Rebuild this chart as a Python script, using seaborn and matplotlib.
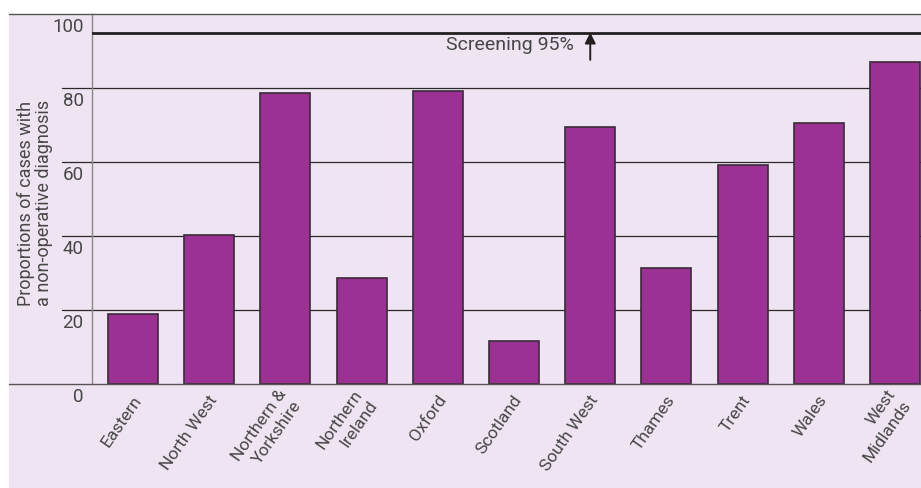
import numpy as np
import pandas as pd
import seaborn as sns
import matplotlib.pyplot as plt
from matplotlib.patches import Rectangle
from matplotlib.transforms import ScaledTranslation

# Chart data
regions = ['Eastern', 'North West', 'Northern &\nYorkshire', 'Northern\nIreland', 'Oxford',
           'Scotland', 'South West', 'Thames', 'Trent', 'Wales', 'West\nMidlands']
proportions = [19, 40.3, 78.6, 28.7, 79.3, 11.6, 69.5, 31.4, 59.3, 70.5, 87.0]
y_ticks = [0, 20, 40, 60, 80, 100]
screening_level = 95

BG = '#EFE4F1'
BAR = '#9B3293'
TXT = '#474747'

sns.set_style('white')
plt.rcParams['font.family'] = ['Roboto', 'DejaVu Sans']

df = pd.DataFrame({'region': regions, 'value': proportions})

fig = plt.figure(figsize=(9.21, 4.88), dpi=100, facecolor='white')
# lavender panel behind everything
fig.patches.append(Rectangle((9 / 921, 0), 1, 1 - 14 / 488, transform=fig.transFigure,
                             facecolor=BG, edgecolor='none', zorder=-10))

ax = fig.add_axes([92 / 921, 104 / 488, 829 / 921, 370 / 488])
ax.set_facecolor('none')

sns.barplot(data=df, x='region', y='value', color=BAR, width=0.656,
            edgecolor='#3a2a3a', linewidth=1.2, saturation=1, ax=ax, zorder=3)

ax.set_xlim(-0.538, 10.34)
ax.set_ylim(0, 100)
for s in ['top', 'right', 'bottom']:
    ax.spines[s].set_visible(False)
ax.spines['left'].set_color('#8a8a8a')
ax.spines['left'].set_linewidth(1.0)

# horizontal rules
for v in [20, 40, 60, 80]:
    ax.axhline(v, xmin=-30 / 829, xmax=1, color='#2a2a2a', lw=0.9, clip_on=False, zorder=2)
for v in [0, 100]:
    ax.axhline(v, xmin=-83 / 829, xmax=1, color='#555555', lw=1.0, clip_on=False, zorder=4)
ax.axhline(screening_level, color='#231f20', lw=2.0, zorder=4)

# screening annotation
ax.annotate('', xy=(6, screening_level), xytext=(6, 87.6),
            arrowprops=dict(arrowstyle='-|>', color='#231f20', lw=1.4, mutation_scale=16,
                            shrinkA=0, shrinkB=0),
            zorder=5)
ax.text(5.79, 91.6, 'Screening 95%', ha='right', va='center', fontsize=14, color=TXT)

# y tick labels sit just under each rule
ax.set_yticks(y_ticks)
ax.set_yticklabels([str(t) for t in y_ticks], fontsize=13.5, color=TXT, va='center')
ax.tick_params(axis='y', length=0, pad=6)
for lab in ax.get_yticklabels():
    lab.set_transform(lab.get_transform() + ScaledTranslation(0, -0.125, fig.dpi_scale_trans))

# x tick labels
ax.set_xlabel('')
ax.set_ylabel('')
ax.set_xticks(range(len(regions)))
ax.set_xticklabels(regions, rotation=55, ha='right', va='center', rotation_mode='anchor',
                   fontsize=12.5, color=TXT, linespacing=1.3)
ax.tick_params(axis='x', length=0, pad=0)
for lab in ax.get_xticklabels():
    lab.set_transform(lab.get_transform() + ScaledTranslation(0.05, -0.13, fig.dpi_scale_trans))

fig.text(35 / 921, 1 - 203 / 488, 'Proportions of cases with\na non-operative diagnosis',
         rotation=90, ha='center', va='center', multialignment='center',
         fontsize=13, color=TXT, linespacing=1.0)

fig.savefig('out.png', dpi=100, facecolor='white')
